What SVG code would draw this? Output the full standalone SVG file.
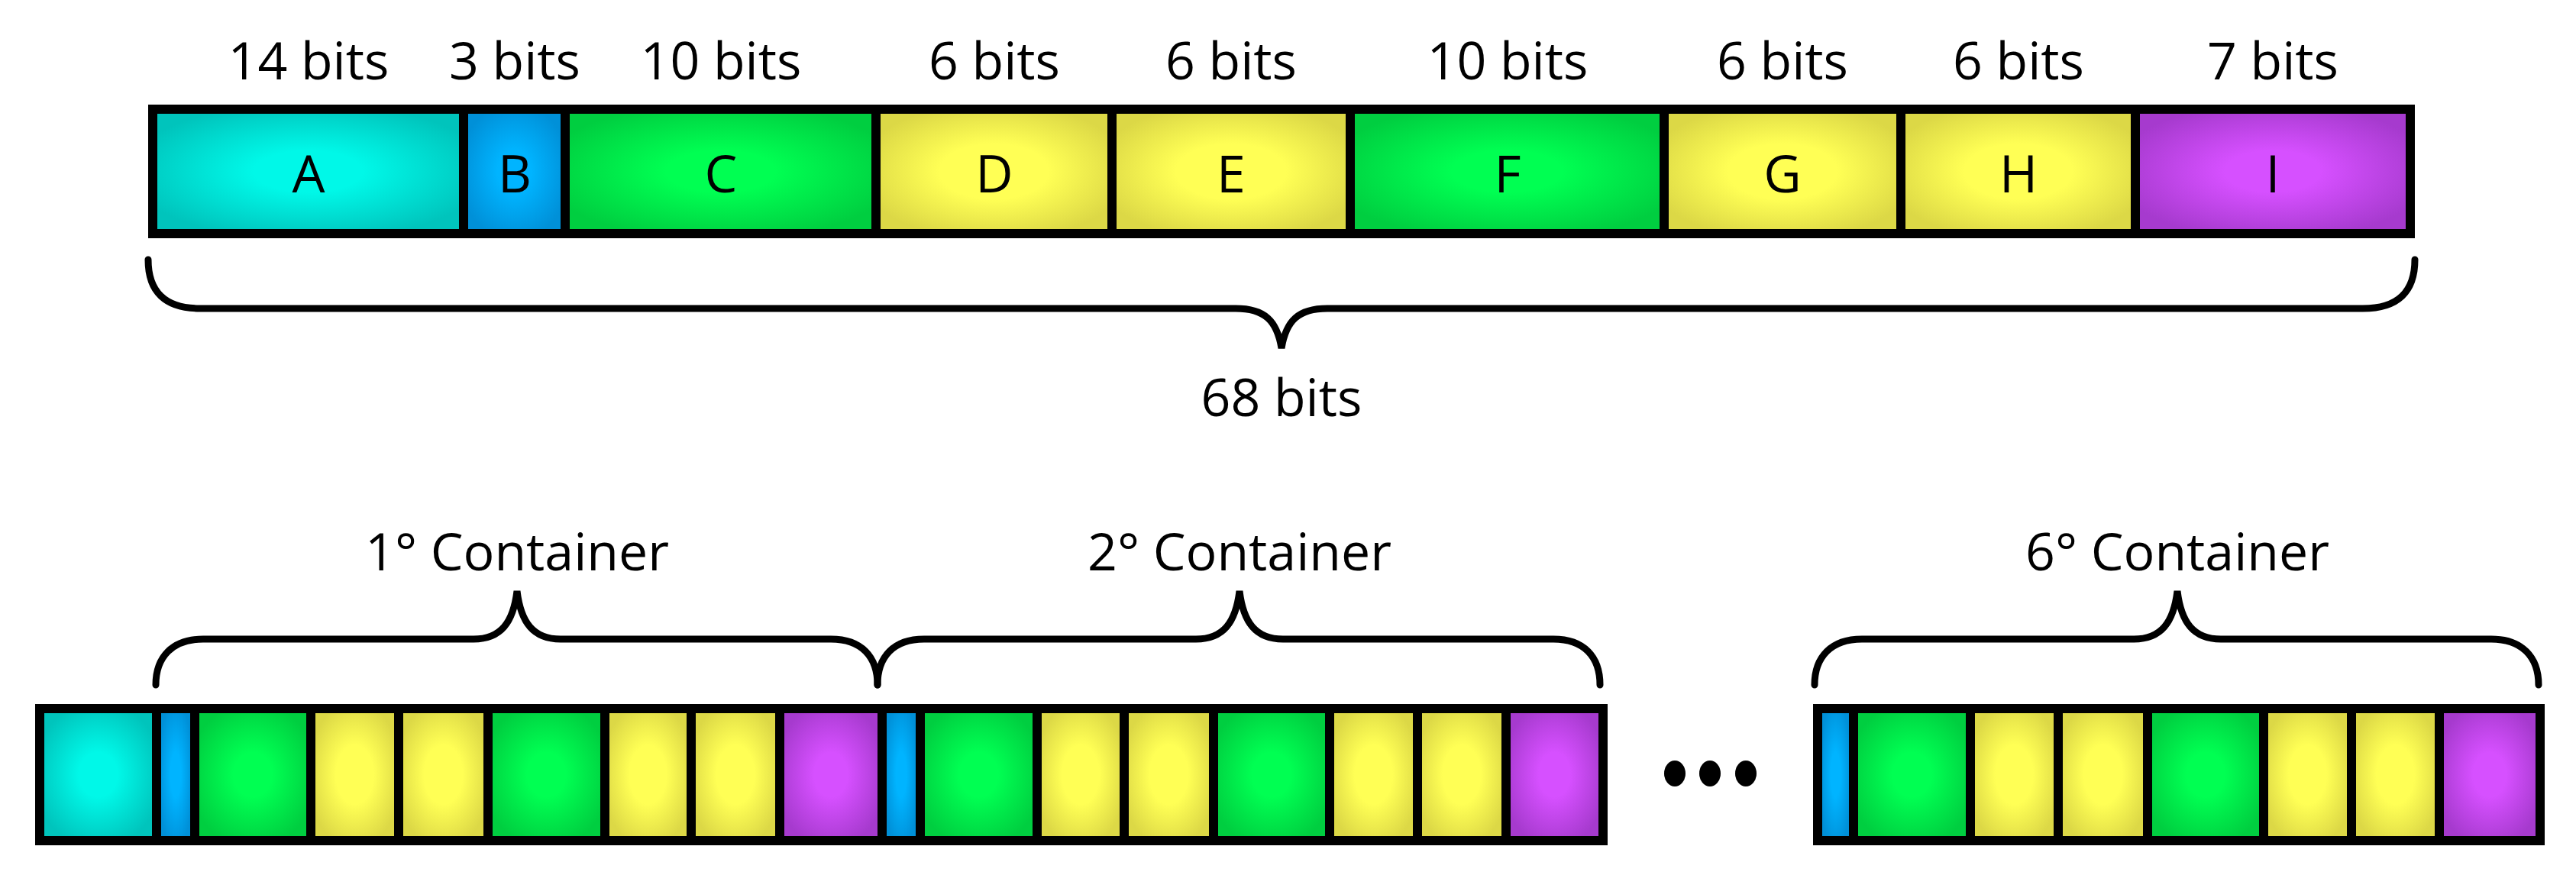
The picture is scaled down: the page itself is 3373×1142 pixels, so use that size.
<svg xmlns="http://www.w3.org/2000/svg" width="3373" height="1142" viewBox="0 0 3373 1142">
<defs>
<radialGradient id="gA" cx="0.5" cy="0.5" r="0.6"><stop offset="0.3" stop-color="#00F8E8"/><stop offset="1" stop-color="#00C4BC"/></radialGradient>
<radialGradient id="gB" cx="0.5" cy="0.5" r="0.6"><stop offset="0.3" stop-color="#00B4FF"/><stop offset="1" stop-color="#0090D8"/></radialGradient>
<radialGradient id="gC" cx="0.5" cy="0.5" r="0.6"><stop offset="0.3" stop-color="#00FF52"/><stop offset="1" stop-color="#00CE40"/></radialGradient>
<radialGradient id="gD" cx="0.5" cy="0.5" r="0.6"><stop offset="0.4" stop-color="#FFFF55"/><stop offset="1" stop-color="#DCD846"/></radialGradient>
<radialGradient id="gI" cx="0.5" cy="0.5" r="0.6"><stop offset="0.3" stop-color="#D650FF"/><stop offset="1" stop-color="#A63ACE"/></radialGradient>
</defs>
<style>
text{font-family:"Open Sans","Liberation Sans",sans-serif;font-size:68px;fill:#000;text-anchor:middle}
.a{fill:url(#gA)}.b{fill:url(#gB)}.c{fill:url(#gC)}.d{fill:url(#gD)}.i{fill:url(#gI)}
.brace{fill:none;stroke:#000;stroke-width:9;stroke-linecap:round}
</style>
<rect width="3373" height="1142" fill="#fff"/>
<g id="top-bar">
<rect x="194" y="137" width="2968" height="175" fill="#000"/>
<g id="A"><rect class="a" x="206" y="149" width="395" height="151"/><text x="404" y="252">A</text><text x="404" y="104">14 bits</text></g>
<g id="B"><rect class="b" x="613" y="149" width="121" height="151"/><text x="674" y="252">B</text><text x="674" y="104">3 bits</text></g>
<g id="C"><rect class="c" x="746" y="149" width="395" height="151"/><text x="944" y="252">C</text><text x="944" y="104">10 bits</text></g>
<g id="D"><rect class="d" x="1153" y="149" width="297" height="151"/><text x="1302" y="252">D</text><text x="1302" y="104">6 bits</text></g>
<g id="E"><rect class="d" x="1462" y="149" width="300" height="151"/><text x="1612" y="252">E</text><text x="1612" y="104">6 bits</text></g>
<g id="F"><rect class="c" x="1774" y="149" width="399" height="151"/><text x="1974" y="252">F</text><text x="1974" y="104">10 bits</text></g>
<g id="G"><rect class="d" x="2185" y="149" width="298" height="151"/><text x="2334" y="252">G</text><text x="2334" y="104">6 bits</text></g>
<g id="H"><rect class="d" x="2495" y="149" width="295" height="151"/><text x="2643" y="252">H</text><text x="2643" y="104">6 bits</text></g>
<g id="I"><rect class="i" x="2802" y="149" width="348" height="151"/><text x="2976" y="252">I</text><text x="2976" y="104">7 bits</text></g>
</g>
<g id="connectors">
<path class="brace" d="M194,340 C194,382 216,404 262,404 L1618,404 C1656,404 1672,420 1678,456 C1684,420 1700,404 1738,404 L3094,404 C3140,404 3162,382 3162,340"/>
<path class="brace" d="M204,897 C204,860 226,837 266,837 L620,837 C656,837 672,815 677,774 C682,815 698,837 734,837 L1088,837 C1128,837 1149,860 1149,897"/>
<path class="brace" d="M1149,897 C1149,860 1170,837 1210,837 L1566,837 C1602,837 1618,815 1623,774 C1628,815 1644,837 1680,837 L2034,837 C2074,837 2095,860 2095,897"/>
<path class="brace" d="M2376,897 C2376,860 2398,837 2438,837 L2794,837 C2830,837 2846,815 2851,774 C2856,815 2872,837 2908,837 L3262,837 C3302,837 3324,860 3324,897"/>
</g>
<g id="labels">
<text x="1678" y="545">68 bits</text>
<text x="677" y="747">1° Container</text>
<text x="1623" y="747">2° Container</text>
<text x="2851" y="747">6° Container</text>
</g>
<g id="bottom-bar-1">
<rect x="46" y="922" width="2059" height="185" fill="#000"/>
<rect class="a" x="58" y="934" width="141" height="161"/>
<rect class="b" x="211" y="934" width="38" height="161"/>
<rect class="c" x="261" y="934" width="140" height="161"/>
<rect class="d" x="413" y="934" width="103" height="161"/>
<rect class="d" x="528" y="934" width="105" height="161"/>
<rect class="c" x="645" y="934" width="141" height="161"/>
<rect class="d" x="798" y="934" width="101" height="161"/>
<rect class="d" x="911" y="934" width="104" height="161"/>
<rect class="i" x="1027" y="934" width="122" height="161"/>
<rect class="b" x="1161" y="934" width="38" height="161"/>
<rect class="c" x="1211" y="934" width="141" height="161"/>
<rect class="d" x="1364" y="934" width="102" height="161"/>
<rect class="d" x="1478" y="934" width="105" height="161"/>
<rect class="c" x="1595" y="934" width="140" height="161"/>
<rect class="d" x="1747" y="934" width="103" height="161"/>
<rect class="d" x="1862" y="934" width="104" height="161"/>
<rect class="i" x="1978" y="934" width="115" height="161"/>
</g>
<g id="ellipsis">
<ellipse cx="2193" cy="1013" rx="14" ry="17"/>
<ellipse cx="2239" cy="1013" rx="14" ry="17"/>
<ellipse cx="2286" cy="1013" rx="14" ry="17"/>
</g>
<g id="bottom-bar-6">
<rect x="2374" y="922" width="958" height="185" fill="#000"/>
<rect class="b" x="2386" y="934" width="35" height="161"/>
<rect class="c" x="2433" y="934" width="141" height="161"/>
<rect class="d" x="2586" y="934" width="103" height="161"/>
<rect class="d" x="2701" y="934" width="105" height="161"/>
<rect class="c" x="2818" y="934" width="140" height="161"/>
<rect class="d" x="2970" y="934" width="103" height="161"/>
<rect class="d" x="3085" y="934" width="103" height="161"/>
<rect class="i" x="3200" y="934" width="120" height="161"/>
</g>
</svg>
